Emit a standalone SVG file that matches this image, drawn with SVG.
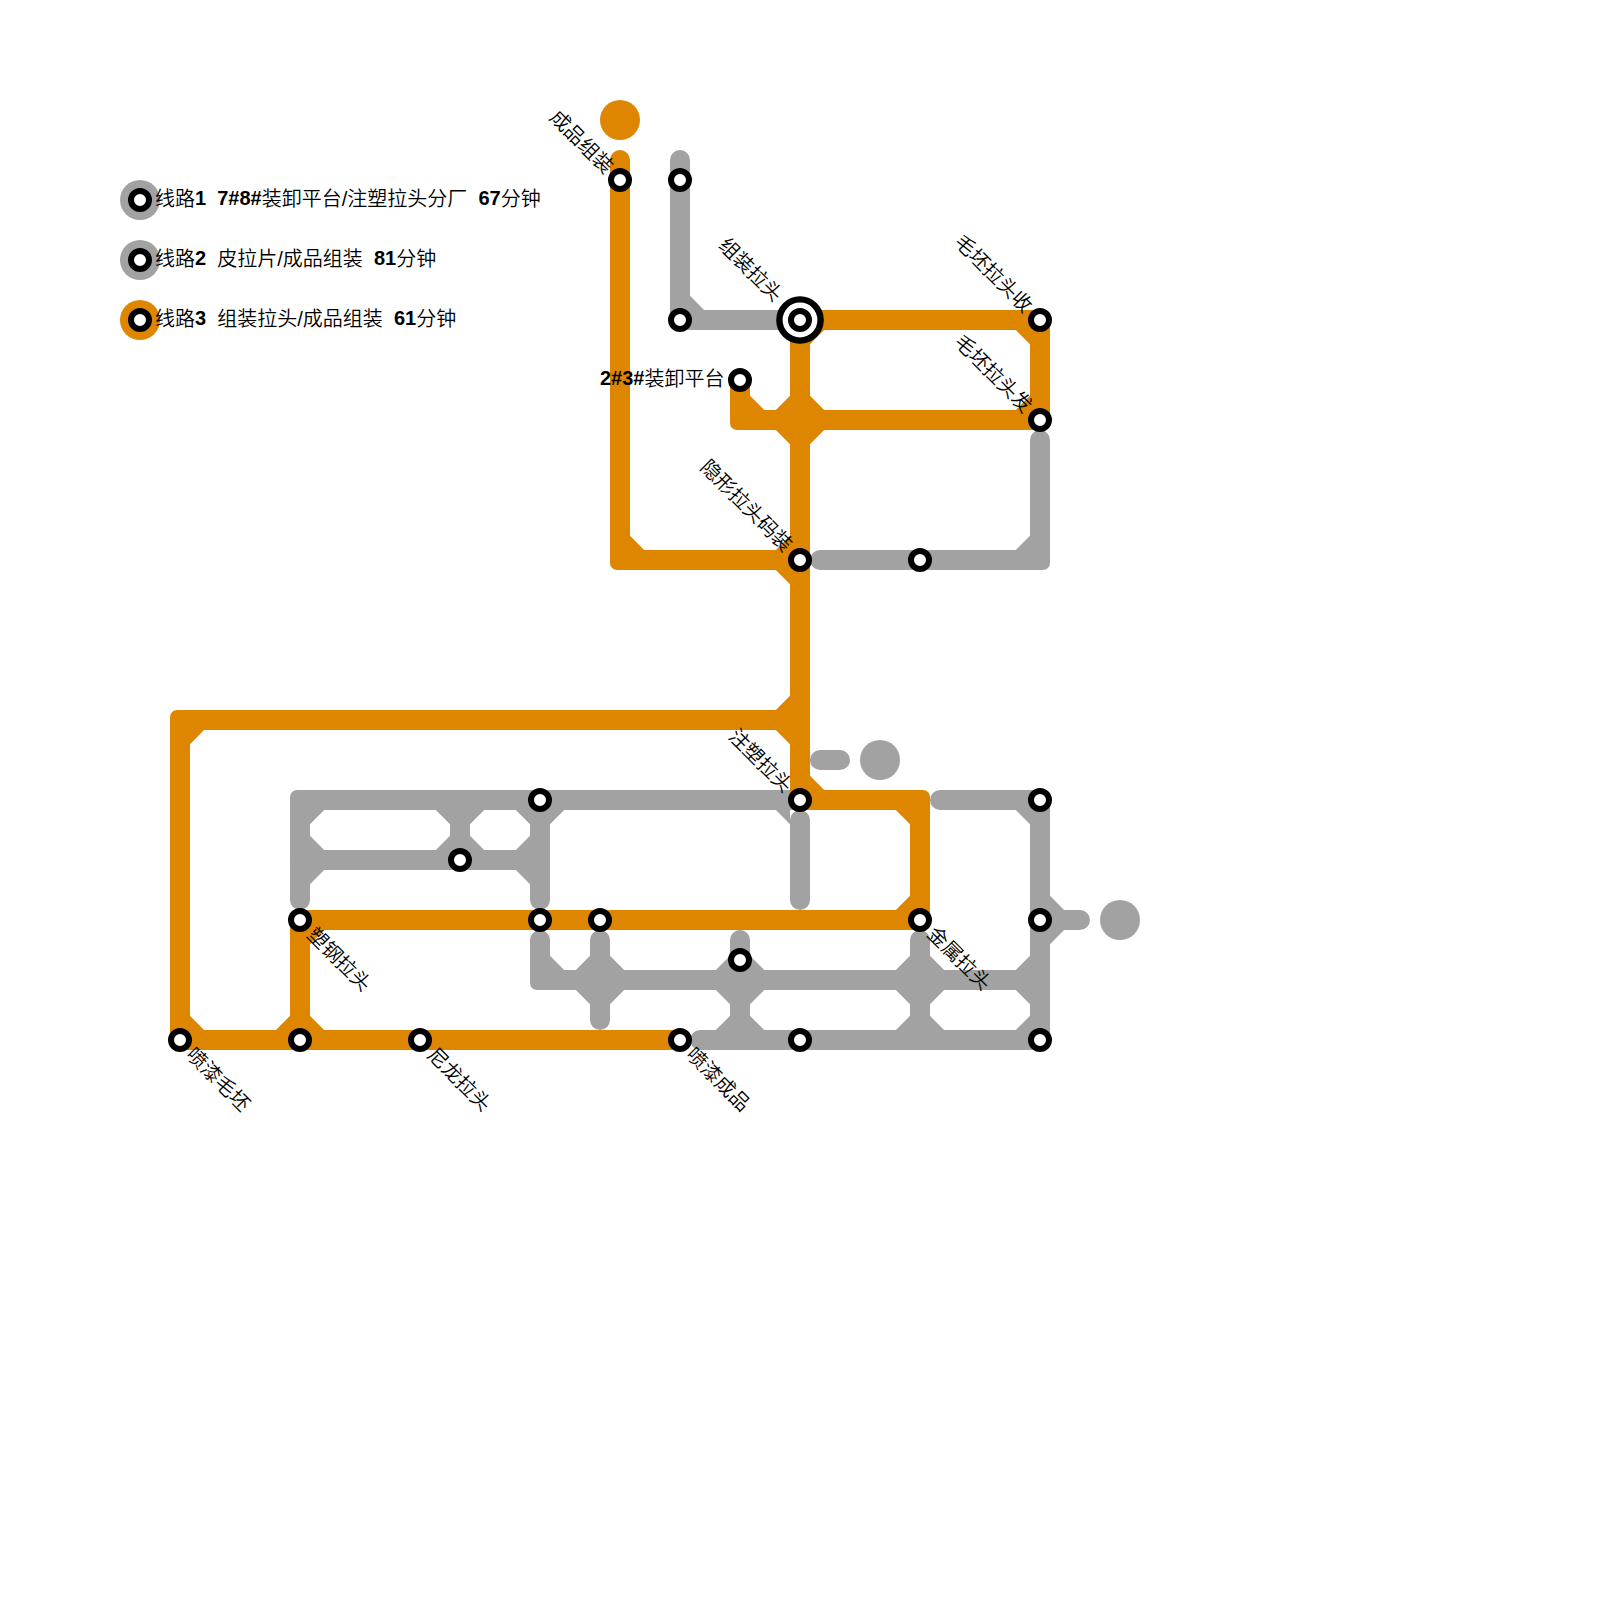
<svg xmlns="http://www.w3.org/2000/svg" xmlns:xlink="http://www.w3.org/1999/xlink" width="1600" height="1600" viewBox="0 0 1600 1600">
<style>
text{font-family:"Liberation Sans","Noto Sans CJK SC",sans-serif;font-size:20px;font-weight:350;fill:#000;white-space:pre}
.b{font-weight:700;baseline-shift:1px}
.ln{fill:none;stroke-width:20;stroke-linecap:round;stroke-linejoin:round}
.gy{stroke:#a2a2a2}.or{stroke:#df8600}
.st{fill:#fff;stroke:#000;stroke-width:6}
.ring{fill:#fff;stroke:#000;stroke-width:6.4}
</style>
<defs>
<path id="se" d="M10,10H24.14L10,24.14Z"/>
<path id="sw" d="M-10,10H-24.14L-10,24.14Z"/>
<path id="ne" d="M10,-10H24.14L10,-24.14Z"/>
<path id="nw" d="M-10,-10H-24.14L-10,-24.14Z"/>
<g id="x4"><use href="#se"/><use href="#sw"/><use href="#ne"/><use href="#nw"/></g>
<path id="onw" d="M-10,0V-3A7,7 0 0 1 -3,-10H0V0Z"/>
<path id="one" d="M10,0V-3A7,7 0 0 0 3,-10H0V0Z"/>
<path id="osw" d="M-10,0V3A7,7 0 0 0 -3,10H0V0Z"/>
<path id="ose" d="M10,0V3A7,7 0 0 1 3,10H0V0Z"/>
<circle id="s" r="9" class="st"/>
</defs>
<g id="connectors">
<g id="line-gray">
<path class="ln gy" d="M680,160V320H780"/>
<path class="ln gy" d="M1040,440V560H820"/>
<path class="ln gy" d="M820,760H840"/>
<path class="ln gy" d="M300,900V800H800"/>
<path class="ln gy" d="M800,820V900"/>
<path class="ln gy" d="M300,860H540"/>
<path class="ln gy" d="M460,800V860"/>
<path class="ln gy" d="M540,800V900"/>
<path class="ln gy" d="M940,800H1040V1040H700"/>
<path class="ln gy" d="M1040,920H1080"/>
<path class="ln gy" d="M540,940V980H1040"/>
<path class="ln gy" d="M600,940V1020"/>
<path class="ln gy" d="M740,940V1040"/>
<path class="ln gy" d="M920,940V1040"/>
<g fill="#a2a2a2">
<use href="#ne" x="680" y="320"/><use href="#nw" x="1040" y="560"/><use href="#se" x="300" y="800"/>
<use href="#ne" x="300" y="860"/><use href="#se" x="300" y="860"/>
<use href="#sw" x="460" y="800"/><use href="#se" x="460" y="800"/>
<use href="#nw" x="460" y="860"/><use href="#ne" x="460" y="860"/>
<use href="#nw" x="540" y="860"/><use href="#sw" x="540" y="860"/>
<use href="#sw" x="540" y="800"/><use href="#se" x="540" y="800"/>
<use href="#sw" x="800" y="800"/><use href="#sw" x="1040" y="800"/>
<use href="#ne" x="1040" y="920"/><use href="#se" x="1040" y="920"/>
<use href="#nw" x="1040" y="980"/><use href="#sw" x="1040" y="980"/>
<use href="#nw" x="1040" y="1040"/><use href="#ne" x="540" y="980"/>
<use href="#x4" x="600" y="980"/><use href="#x4" x="740" y="980"/><use href="#x4" x="920" y="980"/>
<use href="#nw" x="740" y="1040"/><use href="#ne" x="740" y="1040"/>
<use href="#nw" x="920" y="1040"/><use href="#ne" x="920" y="1040"/>
<use href="#onw" x="300" y="800"/><use href="#one" x="800" y="800"/><use href="#osw" x="680" y="320"/>
<use href="#ose" x="1040" y="560"/><use href="#osw" x="540" y="980"/><use href="#one" x="1040" y="800"/><use href="#ose" x="1040" y="1040"/>
</g>
</g>
<g id="line-orange">
<path class="ln or" d="M620,160V560H800"/>
<path class="ln or" d="M800,320V800H920V920H300V1040"/>
<path class="ln or" d="M800,320H1040V420H740V380"/>
<path class="ln or" d="M800,720H180V1040H680"/>
<g fill="#df8600">
<use href="#ne" x="620" y="560"/><use href="#ne" x="740" y="420"/><use href="#x4" x="800" y="420"/>
<use href="#sw" x="1040" y="320"/><use href="#nw" x="1040" y="420"/><use href="#se" x="800" y="320"/>
<use href="#nw" x="800" y="560"/><use href="#sw" x="800" y="560"/>
<use href="#nw" x="800" y="720"/><use href="#sw" x="800" y="720"/>
<use href="#ne" x="800" y="800"/><use href="#sw" x="920" y="800"/><use href="#nw" x="920" y="920"/>
<use href="#se" x="180" y="720"/><use href="#ne" x="180" y="1040"/>
<use href="#nw" x="300" y="1040"/><use href="#ne" x="300" y="1040"/><use href="#se" x="300" y="920"/>
<use href="#osw" x="620" y="560"/><use href="#osw" x="740" y="420"/><use href="#one" x="1040" y="320"/>
<use href="#ose" x="1040" y="420"/><use href="#onw" x="180" y="720"/><use href="#osw" x="180" y="1040"/>
<use href="#onw" x="300" y="920"/><use href="#one" x="920" y="800"/><use href="#ose" x="920" y="920"/><use href="#osw" x="800" y="800"/>
</g>
</g>
</g>
<circle id="term-orange" cx="620" cy="120" r="20" fill="#df8600"/>
<circle id="term-gray-1" cx="880" cy="760" r="20" fill="#a2a2a2"/>
<circle id="term-gray-2" cx="1120" cy="920" r="20" fill="#a2a2a2"/>
<g id="legend">
<g id="legend-1"><circle cx="140" cy="200" r="20" fill="#a2a2a2"/><use href="#s" x="140" y="200"/><text x="155" y="206">线路<tspan class="b">1</tspan>  <tspan class="b">7#8#</tspan>装卸平台/注塑拉头分厂  <tspan class="b">67</tspan>分钟</text></g>
<g id="legend-2"><circle cx="140" cy="260" r="20" fill="#a2a2a2"/><use href="#s" x="140" y="260"/><text x="155" y="266">线路<tspan class="b">2</tspan>  皮拉片/成品组装  <tspan class="b">81</tspan>分钟</text></g>
<g id="legend-3"><circle cx="140" cy="320" r="20" fill="#df8600"/><use href="#s" x="140" y="320"/><text x="155" y="326">线路<tspan class="b">3</tspan>  组装拉头/成品组装  <tspan class="b">61</tspan>分钟</text></g>
</g>
<g id="n-chengpinzuzhuang"><use href="#s" x="620" y="180"/><text text-anchor="end" transform="translate(605,175) rotate(45)">成品组装</text></g>
<g id="n-a"><use href="#s" x="680" y="180"/></g>
<g id="n-b"><use href="#s" x="680" y="320"/></g>
<g id="n-zuzhuanglatou"><circle class="ring" cx="800" cy="320" r="20.6"/><use href="#s" x="800" y="320"/><text text-anchor="end" transform="translate(774,303) rotate(45)">组装拉头</text></g>
<g id="n-maopishou"><use href="#s" x="1040" y="320"/><text text-anchor="end" transform="translate(1024,314) rotate(45)">毛坯拉头收</text></g>
<g id="n-maopifa"><use href="#s" x="1040" y="420"/><text text-anchor="end" transform="translate(1024,414) rotate(45)">毛坯拉头发</text></g>
<g id="n-zhuangxie"><use href="#s" x="740" y="380"/><text x="724.5" y="386" text-anchor="end"><tspan class="b">2#3#</tspan>装卸平台</text></g>
<g id="n-yinxing"><use href="#s" x="800" y="560"/><text text-anchor="end" transform="translate(784,553) rotate(45)">隐形拉头码装</text></g>
<g id="n-c"><use href="#s" x="920" y="560"/></g>
<g id="n-zhusu"><use href="#s" x="800" y="800"/><text text-anchor="end" transform="translate(784,794) rotate(45)">注塑拉头</text></g>
<g id="n-jinshu"><use href="#s" x="920" y="920"/><text transform="translate(926,935) rotate(45)">金属拉头</text></g>
<g id="n-d"><use href="#s" x="540" y="800"/></g>
<g id="n-e"><use href="#s" x="460" y="860"/></g>
<g id="n-sugang"><use href="#s" x="300" y="920"/><text transform="translate(306,936) rotate(45)">塑钢拉头</text></g>
<g id="n-f"><use href="#s" x="540" y="920"/></g>
<g id="n-g"><use href="#s" x="600" y="920"/></g>
<g id="n-h"><use href="#s" x="740" y="960"/></g>
<g id="n-penqimaopi"><use href="#s" x="180" y="1040"/><text transform="translate(185,1056) rotate(45)">喷漆毛坯</text></g>
<g id="n-i"><use href="#s" x="300" y="1040"/></g>
<g id="n-nilong"><use href="#s" x="420" y="1040"/><text transform="translate(426,1056) rotate(45)">尼龙拉头</text></g>
<g id="n-penqichengpin"><use href="#s" x="680" y="1040"/><text transform="translate(685,1056) rotate(45)">喷漆成品</text></g>
<g id="n-j"><use href="#s" x="800" y="1040"/></g>
<g id="n-k"><use href="#s" x="1040" y="1040"/></g>
<g id="n-l"><use href="#s" x="1040" y="800"/></g>
<g id="n-m"><use href="#s" x="1040" y="920"/></g>
</svg>
